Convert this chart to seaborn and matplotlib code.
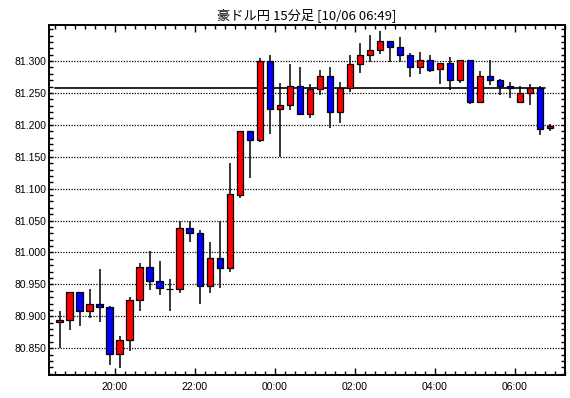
import numpy as np
import pandas as pd
import matplotlib
matplotlib.use("Agg")
import matplotlib.pyplot as plt
import seaborn as sns
from matplotlib.ticker import MultipleLocator, FixedLocator, FuncFormatter

title = "豪ドル円 15分足 [10/06 06:49]"
first_start = "18:30"
bar_minutes = 15
tick_hours = [20, 22, 24, 26, 28, 30]
tick_labels = ["20:00", "22:00", "00:00", "02:00", "04:00", "06:00"]
price_ticks = [80.85, 80.90, 80.95, 81.00, 81.05, 81.10, 81.15, 81.20, 81.25, 81.30]
ref_level = 81.258

opens = [80.891, 80.894, 80.9375, 80.909, 80.919, 80.915, 80.841, 80.8625, 80.925, 80.978,
         80.956, 80.943, 80.942, 81.039, 81.030, 80.948, 80.991, 80.975, 81.090, 81.191,
         81.177, 81.300, 81.225, 81.231, 81.261, 81.217, 81.256, 81.277, 81.220, 81.258,
         81.295, 81.309, 81.317, 81.331, 81.322, 81.309, 81.291, 81.302, 81.2875, 81.297,
         81.270, 81.302, 81.236, 81.277, 81.270, 81.261, 81.236, 81.250, 81.258, 81.195]
closes = [80.894, 80.9375, 80.909, 80.919, 80.914, 80.841, 80.8625, 80.925, 80.978, 80.956,
          80.944, 80.942, 81.039, 81.030, 80.948, 80.991, 80.975, 81.091, 81.191, 81.177,
          81.300, 81.225, 81.231, 81.261, 81.217, 81.256, 81.277, 81.220, 81.258, 81.295,
          81.309, 81.317, 81.331, 81.322, 81.309, 81.291, 81.302, 81.286, 81.297, 81.270,
          81.302, 81.236, 81.277, 81.270, 81.261, 81.258, 81.250, 81.258, 81.194, 81.198]
highs = [80.908, 80.9375, 80.9375, 80.942, 80.974, 80.916, 80.869, 80.931, 80.984, 81.003,
         80.986, 80.959, 81.049, 81.049, 81.036, 81.017, 81.050, 81.141, 81.191, 81.191,
         81.305, 81.310, 81.266, 81.295, 81.291, 81.264, 81.286, 81.291, 81.267, 81.309,
         81.328, 81.341, 81.347, 81.331, 81.3375, 81.3125, 81.314, 81.309, 81.297, 81.306,
         81.302, 81.302, 81.284, 81.302, 81.272, 81.267, 81.261, 81.264, 81.261, 81.2016]
lows = [80.850, 80.879, 80.885, 80.897, 80.891, 80.823, 80.819, 80.845, 80.909, 80.941,
        80.934, 80.909, 80.936, 81.016, 80.920, 80.936, 80.944, 80.970, 81.086, 81.117,
        81.173, 81.186, 81.150, 81.223, 81.216, 81.211, 81.247, 81.195, 81.203, 81.252,
        81.281, 81.298, 81.311, 81.298, 81.298, 81.275, 81.280, 81.283, 81.264, 81.255,
        81.266, 81.233, 81.235, 81.2625, 81.247, 81.242, 81.234, 81.231, 81.184, 81.1906]

# time axis (hours, continuing past midnight)
h0, m0 = (int(s) for s in first_start.split(":"))
step = bar_minutes / 60.0
starts = h0 + m0 / 60.0 + step * np.arange(len(opens))
df = pd.DataFrame({"start": starts, "open": opens, "high": highs,
                   "low": lows, "close": closes})
df["center"] = df["start"] + step / 2
df["up"] = df["close"] >= df["open"]

sns.set_style("ticks")
plt.rcParams["font.family"] = ["Liberation Sans", "DejaVu Sans"]

fig = plt.figure(figsize=(5.70, 3.98), dpi=100)
ax = fig.add_axes([49 / 570, 23 / 398, (565 - 49) / 570, (375 - 24.7) / 398])

# grid
for v in price_ticks:
    ax.axhline(v, color="black", lw=0.9, linestyle=(0, (1, 1.2)), zorder=1)

# reference line
ax.plot([df["start"].iloc[0], df["start"].iloc[-1]], [ref_level, ref_level],
        color="black", lw=1.2, zorder=2)

# wicks
ax.vlines(df["center"], df["low"], df["high"], color="black", lw=1.1, zorder=3)

# bodies
body_bottom = np.minimum(df["open"], df["close"])
body_height = np.abs(df["close"] - df["open"])
colors = np.where(df["up"], "#ff0000", "#0000ff")
ax.bar(df["center"], body_height, bottom=body_bottom, width=step * 0.66,
       color=colors, edgecolor="black", linewidth=0.9, zorder=4)

ax.set_xlim(18.357, 31.25)
ax.set_ylim(80.808, 81.357)

ax.xaxis.set_major_locator(FixedLocator(tick_hours))
ax.set_xticklabels(tick_labels)
ax.xaxis.set_minor_locator(MultipleLocator(step))
ax.yaxis.set_major_locator(FixedLocator(price_ticks))
ax.yaxis.set_minor_locator(MultipleLocator(0.01))
ax.yaxis.set_major_formatter(FuncFormatter(lambda v, p: f"{v:.3f}"))

ax.tick_params(axis="both", which="both", direction="in", top=True, right=True,
               color="black", labelsize=7.5, labelcolor="black")
ax.tick_params(axis="both", which="major", length=5, width=1.0)
ax.tick_params(axis="both", which="minor", length=3, width=1.0)
ax.tick_params(axis="y", which="major", length=3, pad=2)
ax.tick_params(axis="x", which="major", pad=5)

for s in ax.spines.values():
    s.set_color("black")
    s.set_linewidth(1.4)

ax.set_title(title, fontsize=9.5, pad=4, color="black",
             family=["Noto Sans CJK JP", "DejaVu Sans"])

fig.savefig("out.png", dpi=100)
